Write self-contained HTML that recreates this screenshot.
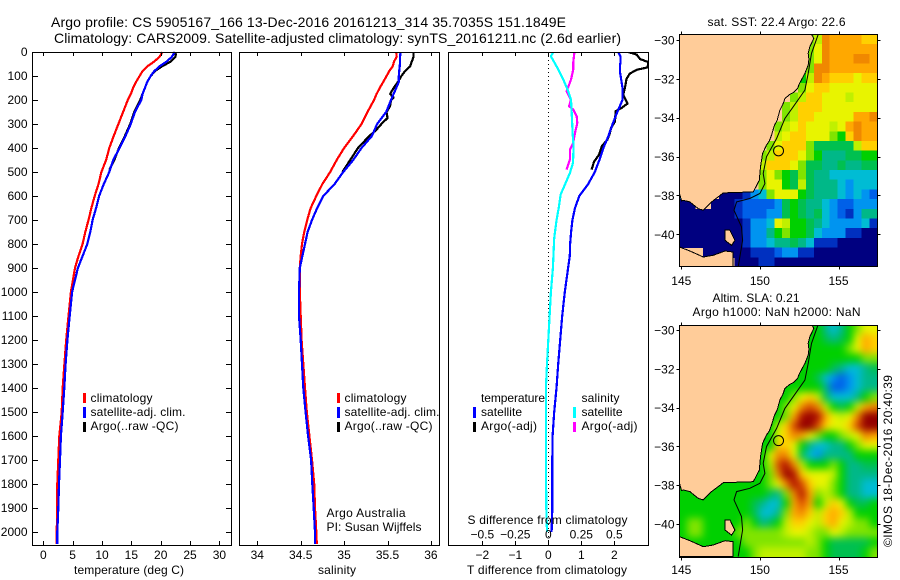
<!DOCTYPE html>
<html>
<head>
<meta charset="utf-8">
<title>Argo profile</title>
<style>
html,body{margin:0;padding:0;background:#fff;}
svg{display:block;}
text{font-family:"Liberation Sans",sans-serif;font-size:12px;fill:#000;}
.t{font-size:14px;}
</style>
</head>
<body>
<svg id="fig" xmlns="http://www.w3.org/2000/svg" width="900" height="580" viewBox="0 0 900 580">
<defs>
<clipPath id="m1clip"><rect x="679.5" y="34.5" width="198" height="232"/></clipPath>
<clipPath id="m2clip"><rect x="679.5" y="325.5" width="198" height="232"/></clipPath>
<clipPath id="p3clip"><rect x="448.5" y="52.5" width="200" height="493"/></clipPath>
<filter id="smooth" x="-10%" y="-10%" width="120%" height="120%" color-interpolation-filters="sRGB"><feGaussianBlur stdDeviation="4"/></filter>
</defs>
<text class="t" x="51" y="27" textLength="515" lengthAdjust="spacing">Argo profile: CS 5905167_166 13-Dec-2016 20161213_314 35.7035S 151.1849E</text>
<text class="t" x="54" y="43" textLength="567" lengthAdjust="spacing">Climatology: CARS2009. Satellite-adjusted climatology: synTS_20161211.nc (2.6d earlier)</text>

<g id="panel1"></g>
<g id="panel2"></g>
<g id="panel3"></g>

<rect x="32.5" y="52.5" width="199" height="493" fill="none" stroke="#000"/>
<rect x="239.5" y="52.5" width="200" height="493" fill="none" stroke="#000"/>
<rect x="448.5" y="52.5" width="200" height="493" fill="none" stroke="#000"/>

<text x="74" y="574" textLength="110" lengthAdjust="spacing">temperature (deg C)</text>
<text x="318" y="574" textLength="38" lengthAdjust="spacing">salinity</text>
<text x="467" y="574" textLength="160" lengthAdjust="spacing">T difference from climatology</text>
<text x="467.5" y="524" textLength="160" lengthAdjust="spacing">S difference from climatology</text>

<g>
<rect x="83" y="393" width="3" height="10" fill="#f00"/>
<rect x="83" y="407" width="3" height="11" fill="#00f"/>
<rect x="83" y="422" width="3" height="10" fill="#000"/>
<text x="90.5" y="402" textLength="62" lengthAdjust="spacing">climatology</text>
<text x="90.5" y="416" textLength="95" lengthAdjust="spacing">satellite-adj. clim.</text>
<text x="90.5" y="430" textLength="88" lengthAdjust="spacing">Argo(..raw -QC)</text>
</g>
<g>
<rect x="337" y="393" width="3" height="10" fill="#f00"/>
<rect x="337" y="407" width="3" height="11" fill="#00f"/>
<rect x="337" y="422" width="3" height="10" fill="#000"/>
<text x="344.5" y="402" textLength="62" lengthAdjust="spacing">climatology</text>
<text x="344.5" y="416" textLength="95" lengthAdjust="spacing">satellite-adj. clim.</text>
<text x="344.5" y="430" textLength="88" lengthAdjust="spacing">Argo(..raw -QC)</text>
<text x="326.5" y="517" textLength="79" lengthAdjust="spacing">Argo Australia</text>
<text x="326.5" y="531" textLength="95" lengthAdjust="spacing">PI: Susan Wijffels</text>
</g>
<g>
<text x="481" y="402" textLength="64" lengthAdjust="spacing">temperature</text>
<rect x="473" y="407" width="3" height="11" fill="#00f"/>
<rect x="473" y="422" width="3" height="10" fill="#000"/>
<text x="481" y="416" textLength="41" lengthAdjust="spacing">satellite</text>
<text x="481" y="430" textLength="56" lengthAdjust="spacing">Argo(-adj)</text>
<text x="581.5" y="402" textLength="38" lengthAdjust="spacing">salinity</text>
<rect x="573" y="407" width="3" height="11" fill="#0ff"/>
<rect x="573" y="422" width="3" height="10" fill="#f0f"/>
<text x="581.5" y="416" textLength="41" lengthAdjust="spacing">satellite</text>
<text x="581.5" y="430" textLength="56" lengthAdjust="spacing">Argo(-adj)</text>
</g>

<text x="707.5" y="26" textLength="138" lengthAdjust="spacing">sat. SST: 22.4  Argo: 22.6</text>
<text x="712.5" y="302" textLength="87" lengthAdjust="spacing">Altim. SLA: 0.21</text>
<text x="692.5" y="316" textLength="168" lengthAdjust="spacing">Argo h1000: NaN h2000: NaN</text>

<g id="map1"></g>
<g id="map2"></g>

<text transform="translate(892,547) rotate(-90)" textLength="172" lengthAdjust="spacing">©IMOS 18-Dec-2016 20:40:39</text>
</svg>

<script>
// ---- profile data ----
const depths = [0,20,40,60,80,100,125,150,175,200,250,300,350,400,450,500,550,600,650,700,750,800,850,900,1000,1100,1200,1300,1400,1500,1600,1700,1800,1900,2000,2050];
const tempClim = [20.3,19.8,18.9,17.7,16.9,16.4,15.8,15.3,14.9,14.4,13.6,12.8,12.0,11.25,10.7,9.9,9.4,8.75,8.2,7.7,7.15,6.7,6.0,5.4,4.7,4.3,3.9,3.6,3.3,3.13,2.73,2.55,2.39,2.39,2.28,2.28];
const tempSat = [22.4,21.9,21.0,19.8,18.9,18.3,17.7,17.3,16.9,16.7,15.6,14.9,14.0,13.0,11.9,11.25,10.3,9.5,9.0,8.4,8.0,7.5,6.7,5.9,4.9,4.5,4.1,3.8,3.58,3.3,3.0,2.84,2.67,2.56,2.39,2.39];
const argoDepths = [5,20,40,60,80,100,125,150,175,200,250,300,350,400,450,490];
const tempArgo = [22.6,22.5,21.7,20.2,19.0,18.3,17.7,17.3,16.9,16.5,15.5,14.8,13.9,12.9,12.1,11.25];

const salClim = [35.6,35.606,35.575,35.56,35.52,35.49,35.45,35.41,35.375,35.345,35.27,35.2,35.105,35.0,34.915,34.84,34.75,34.68,34.615,34.575,34.54,34.515,34.5,34.49,34.49,34.5,34.51,34.53,34.55,34.57,34.6,34.63,34.655,34.665,34.68,34.685];
const salSat = [35.65,35.645,35.645,35.64,35.635,35.63,35.63,35.6,35.57,35.54,35.485,35.38,35.32,35.2,35.105,34.99,34.89,34.76,34.69,34.63,34.58,34.55,34.52,34.49,34.48,34.48,34.5,34.515,34.53,34.557,34.585,34.62,34.634,34.65,34.665,34.665];
const salArgoDepths = [0,20,40,60,80,100,125,150,175,190,200,225,250,275,300,325,350,400,450,500];
const salArgo = [35.8,35.8,35.78,35.76,35.7,35.66,35.62,35.57,35.53,35.57,35.54,35.53,35.49,35.5,35.43,35.37,35.29,35.16,35.07,34.98];

const diffDepths = [0,20,40,60,80,100,125,150,175,200,250,300,350,400,450,500,550,600,650,700,750,800,850,900,1000,1100,1200,1300,1400,1500,1600,1700,1800,1900,2000];
const tDiffSat = [2.12,2.19,2.19,2.17,2.17,2.19,2.22,2.25,2.25,2.25,2.09,1.95,1.82,1.67,1.55,1.41,1.21,0.94,0.81,0.73,0.69,0.66,0.65,0.6,0.5,0.42,0.36,0.3,0.25,0.18,0.13,0.12,0.12,0.12,0.1];
const tDiffArgoDepths = [0,11,29,42,64,74,90,112,150,178,215,233,247,289,317,337,365,393,428,456,490];
const tDiffArgo = [2.42,2.68,2.78,3.03,3.01,2.68,2.47,2.37,2.32,2.27,2.4,2.22,2.04,2.02,1.9,1.87,1.79,1.62,1.54,1.39,1.31];
const sDiffSatDepths = [0,18,60,115,157,199,254,337,393,462,504,553,594,643,699,775,900,1000,1100,1200,1300,1400,1500,1700,1900,2000];
const sDiffSat = [0.038,0.02,0.063,0.114,0.146,0.172,0.177,0.184,0.192,0.187,0.164,0.126,0.093,0.081,0.063,0.045,0.035,0.02,0.01,0,-0.01,-0.018,-0.018,-0.018,-0.015,-0.01];
const sDiffArgoDepths = [4,46,74,115,164,199,226,240,268,296,337,379,407,449,490];
const sDiffArgo = [0.197,0.189,0.189,0.172,0.139,0.172,0.157,0.189,0.215,0.22,0.202,0.189,0.164,0.164,0.139];

// ---- tick labels ----
const depthTicks = [0,100,200,300,400,500,600,700,800,900,1000,1100,1200,1300,1400,1500,1600,1700,1800,1900,2000];
const tempTicks = [0,5,10,15,20,25,30];
const salTicks = [34,34.5,35,35.5,36];
const tDiffTicks = [-2,-1,0,1,2];
const sDiffTicks = [-0.5,-0.25,0,0.25,0.5];
const lonTicks = [145,150,155];
const latTicks = [-30,-32,-34,-36,-38,-40];

// ---- map data: one character per 0.5 degree cell, '.' = land ----
const sstRows = [
"................89dccccbb",
"................8adcccccc",
"................8adcccddc",
"................8ddcccccc",
"...............79dcbbbabb",
"...............8abbaaaaaa",
"..............89bbaaa9aaa",
".............89bbbaaaaaaa",
".............89bbaaaaaccd",
"............89abaaa9acdcc",
"............9abbaaa87bdcc",
"...........8abbb8666669bb",
"..........89bbba875556677",
"..........9bbba8665565566",
"..........8a8768655444444",
"..........8aa769655543444",
"3....0001348aaa7655543432",
"00..000122223676554322333",
"0000000122233676564321355",
"000000001334a977654333341",
"0000000013357877643331100",
"0000000013345565411100000",
"...0000001112331100000000",
".......000110000000000000"
];
const slaRows = [
"77777 77777 77777 77754 578aa",
"77777 77777 77777 77765 67acb",
"77777 77777 77777 77777 78acb",
"77777 77777 77777 77777 77788",
"77777 77777 77777 77776 54456",
"77777 77777 77777 77643 23455",
"77777 77777 77777 77752 23455",
"77777 77777 77778 ab964 44578",
"77777 77777 7778a ded97 679cd",
"77777 77777 7778c fgfca 9adgg",
"77777 77777 779be ggeba abegg",
"77777 77777 77abd ca877 89adc",
"77777 77777 77bba 75445 578aa",
"77777 77777 7adda 64355 55777",
"77777 77777 79efd 97778 75566",
"77777 77777 78dgf baaa9 75555",
"77777 77777 78adf ebaa8 75544",
"77777 77777 7658d fc898 75544",
"77777 77776 5447c ec79b a7667",
"77777 77776 4458c db9bc b9777",
"78877 77787 5679b ba9bc a9887",
"78877 77888 8889a a988a 98888",
"77777 77788 88888 89876 66667",
"77777 77778 99999 98876 66678"
].map(r => r.replace(/ /g,''));
const levelColours = {'0':'#000080','1':'#0030c0','2':'#0060e8','3':'#0094f0','4':'#00bcd4','5':'#00b888','6':'#00c050','7':'#00d000','8':'#80e400','9':'#c0f000','a':'#e8f400','b':'#ffd000','c':'#ffa800','d':'#f08800','e':'#d84c00','f':'#b01000','g':'#940000'};

// ---- geography, degrees ----
const coastLon = [153.28,153.43,153.18,153.07,153.12,153.07,152.86,152.5,152.4,152.12,151.9,151.59,151.47,151.27,151.10,150.92,150.74,150.6,150.42,150.17,150.04,149.96,149.58,147.67,146.93,146.4,146.08,145.55,145.13,145.02,144.87,144.87];
const coastLat = [-29.71,-29.91,-30.34,-30.69,-31.0,-31.29,-31.72,-32.27,-32.5,-32.71,-32.8,-33.01,-33.3,-33.61,-34.12,-34.4,-34.9,-35.2,-35.41,-35.84,-36.53,-37.22,-37.82,-37.87,-38.33,-38.76,-38.68,-38.33,-38.25,-38.28,-37.87,-29.71];
const southLon = [144.87,145.55,146.4,147.03,147.78,148.3,148.3,144.87];
const southLat = [-40.65,-40.86,-41.17,-41.08,-40.86,-40.91,-41.68,-41.68];
const islandLon = [147.78,148.09,148.41,148.2,147.78];
const islandLat = [-39.79,-39.79,-40.31,-40.57,-40.31];
const isobathLon = [153.71,153.28,153.07,152.86,152.12,151.59,151.06,150.42,150.21,150.32,150,149.36,148.52,148.35,148.83,148.9,148.62];
const isobathLat = [-29.71,-30.69,-31.72,-32.58,-33.44,-34.04,-35.07,-36.01,-36.87,-37.39,-37.9,-38.16,-38.33,-38.76,-39.62,-40.31,-41.68];
const argoLon = 151.1849;
const argoLat = -35.7035;

// ---- axis functions ----
const yD = d => 52 + 0.24*d;
const xTemp = v => 43.3 + 5.87*v;
const xSal = v => 257.3 + 86.8*(v-34);
const xTD = v => 548.3 + 33*v;
const xSD = v => 548.3 + 132*v;
const xLon = v => 681.3 + 15.72*(v-145);
const yLat1 = v => 40 + 19.43*(-30-v);
const yLat2 = v => 330 + 19.4*(-30-v);
const gridLon0 = 144.87, gridLonStep = 0.5036, gridLat0 = -29.71, gridLatStep = 0.4988;

const NS = 'http://www.w3.org/2000/svg';
function mk(parent, tag, attrs, txt){
  const el = document.createElementNS(NS, tag);
  for (const k in attrs) el.setAttribute(k, attrs[k]);
  if (txt !== undefined) el.textContent = txt;
  parent.appendChild(el);
  return el;
}
function series(parent, xs, ds, xf, colour, name){
  const pts = xs.map((v,i) => xf(v).toFixed(1)+','+yD(ds[i]).toFixed(1)).join(' ');
  const el = mk(parent, 'polyline', {points:pts, fill:'none', stroke:colour, 'stroke-width':2.2, 'stroke-linejoin':'round', 'shape-rendering':'crispEdges'});
  
  
}
function xAxis(parent, ticks, xf, labelY, prefix){
  ticks.forEach(v => {
    const x = Math.round(xf(v)) + 0.5;
    const a = mk(parent, 'line', {x1:x, x2:x, y1:545, y2:541, stroke:'#000'});
    
    
    const b = mk(parent, 'line', {x1:x, x2:x, y1:52, y2:56, stroke:'#000'});
    
    
    const t = mk(parent, 'text', {x:xf(v), y:labelY, 'text-anchor':'middle'}, String(v).replace('-', '\u2212'));
    
    
  });
}

// panel 1
const p1 = document.getElementById('panel1');
series(p1, tempArgo, argoDepths, xTemp, '#000', 'temperature-argo-line');
series(p1, tempClim, depths, xTemp, '#f00', 'temperature-climatology-line');
series(p1, tempSat, depths, xTemp, '#00f', 'temperature-satellite-line');
xAxis(p1, tempTicks, xTemp, 559, 'temperature-x');
depthTicks.forEach(d => {
  const y = Math.round(yD(d)) + 0.5;
  const l = mk(p1, 'line', {x1:32, x2:38, y1:y, y2:y, stroke:'#000'});
  
  
  const r = mk(p1, 'line', {x1:226, x2:232, y1:y, y2:y, stroke:'#000'});
  
  
  const t = mk(p1, 'text', {x:27.5, y:yD(d)+4, 'text-anchor':'end'}, d);
  
  
});

// panel 2
const p2 = document.getElementById('panel2');
series(p2, salArgo, salArgoDepths, xSal, '#000', 'salinity-argo-line');
series(p2, salClim, depths, xSal, '#f00', 'salinity-climatology-line');
series(p2, salSat, depths, xSal, '#00f', 'salinity-satellite-line');
xAxis(p2, salTicks, xSal, 559, 'salinity-x');

// panel 3
const p3 = document.getElementById('panel3');
const zeroLine = mk(p3, 'line', {x1:548.5, x2:548.5, y1:52, y2:545, stroke:'#000', 'stroke-dasharray':'1 3'});


const p3c = mk(p3, 'g', {'clip-path':'url(#p3clip)'});


series(p3c, tDiffArgo, tDiffArgoDepths, xTD, '#000', 't-difference-argo-line');
series(p3c, tDiffSat, diffDepths, xTD, '#00f', 't-difference-satellite-line');
series(p3c, sDiffArgo, sDiffArgoDepths, xSD, '#f0f', 's-difference-argo-line');
series(p3c, sDiffSat, sDiffSatDepths, xSD, '#0ff', 's-difference-satellite-line');
xAxis(p3, tDiffTicks, xTD, 559, 't-difference-x');
sDiffTicks.forEach(v => {
  const t = mk(p3, 'text', {x:xSD(v), y:538.5, 'text-anchor':'middle'}, String(v).replace('-', '\u2212'));
  
  
});

// maps
function drawMap(rootId, rows, yLat, clipId, top, bottom, smooth, prefix, labelY){
  const root = document.getElementById(rootId);
  const bg = mk(root, 'rect', {x:679.5, y:top, width:198, height:bottom-top, fill:'#ffcc99'});
  
  
  const clip = mk(root, 'g', {'clip-path':'url(#'+clipId+')'});
  
  
  const field = mk(clip, 'g', smooth ? {filter:'url(#smooth)'} : {});
  
  
  rows.forEach((row, j) => {
    [...row].forEach((ch, i) => {
      if (ch === '.') return;
      let x0 = xLon(gridLon0 + i*gridLonStep), x1 = xLon(gridLon0 + (i+1)*gridLonStep);
      let y0 = yLat(gridLat0 - j*gridLatStep), y1 = yLat(gridLat0 - (j+1)*gridLatStep);
      if (smooth) {
        if (i === 0) x0 -= 14;
        if (i === row.length-1) x1 += 14;
        if (j === 0) y0 -= 14;
        if (j === rows.length-1) y1 += 14;
      }
      const c = mk(field, 'rect', {x:x0.toFixed(2), y:y0.toFixed(2), width:(x1-x0+0.5).toFixed(2), height:(y1-y0+0.5).toFixed(2), fill:levelColours[ch], 'shape-rendering':'crispEdges'});
      
      
    });
  });
  const shape = (lons, lats, name) => {
    const pts = lons.map((v,i) => xLon(v).toFixed(1)+','+yLat(lats[i]).toFixed(1)).join(' ');
    const p = mk(clip, 'polygon', {points:pts, fill:'#ffcc99', stroke:'#000', 'stroke-width':1, 'shape-rendering':'crispEdges'});
    
    
  };
  shape(coastLon, coastLat, 'mainland');
  shape(southLon, southLat, 'tasmania');
  shape(islandLon, islandLat, 'island');
  const iso = mk(clip, 'polyline', {points:isobathLon.map((v,i) => xLon(v).toFixed(1)+','+yLat(isobathLat[i]).toFixed(1)).join(' '), fill:'none', stroke:'#000', 'stroke-width':1});
  
  
  const mark = mk(clip, 'circle', {cx:xLon(argoLon), cy:yLat(argoLat), r:5, fill:'none', stroke:'#000', 'stroke-width':1});
  
  
  const frame = mk(root, 'rect', {x:679.5, y:top, width:198, height:bottom-top, fill:'none', stroke:'#000'});
  
  
  lonTicks.forEach(v => {
    const x = Math.round(xLon(v)) + 0.5;
    const a = mk(root, 'line', {x1:x, x2:x, y1:top-3, y2:top, stroke:'#000'});
    
    
    const b = mk(root, 'line', {x1:x, x2:x, y1:bottom, y2:bottom+3, stroke:'#000'});
    
    
    const t = mk(root, 'text', {x:xLon(v), y:labelY, 'text-anchor':'middle'}, v);
    
    
  });
  latTicks.forEach(v => {
    const y = Math.round(yLat(v)) + 0.5;
    const a = mk(root, 'line', {x1:676.5, x2:679.5, y1:y, y2:y, stroke:'#000'});
    
    
    const b = mk(root, 'line', {x1:877.5, x2:880.5, y1:y, y2:y, stroke:'#000'});
    
    
    const t = mk(root, 'text', {x:674.5, y:yLat(v)+4.5, 'text-anchor':'end'}, String(v).replace('-', '\u2212'));
    
    
  });
}
drawMap('map1', sstRows, yLat1, 'm1clip', 34.5, 266.5, false, 'sst', 285);
drawMap('map2', slaRows, yLat2, 'm2clip', 325.5, 557.5, true, 'sla', 574);
</script>
</body>
</html>
